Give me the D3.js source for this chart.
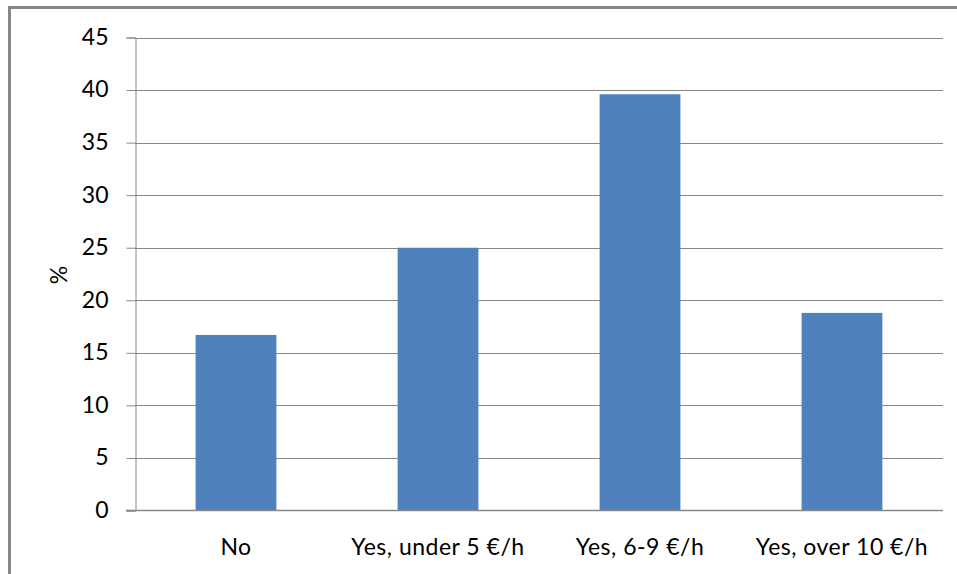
<!DOCTYPE html>
<html>
<head>
<meta charset="utf-8">
<script src="https://cdn.jsdelivr.net/npm/d3@7"></script>
<style>
  body { margin: 0; background: #fff; }
  svg text { font-family: Lato, "Open Sans", sans-serif; fill: #000; }
</style>
</head>
<body>
<div id="chart"></div>
<script>
// chart data
var categories = ["No", "Yes, under 5 €/h", "Yes, 6-9 €/h", "Yes, over 10 €/h"];
var values = [16.7, 25.0, 39.6, 18.8];
var yTicks = [0, 5, 10, 15, 20, 25, 30, 35, 40, 45];

var width = 957;
var height = 574;

// plot area edges
var plotLeft = 135, plotRight = 943, plotTop = 37.5, plotBottom = 510.5;

var svg = d3.select("#chart")
  .append("svg")
  .attr("width", width)
  .attr("height", height);

// outer frame (runs off the right and bottom edge)
svg.append("rect")
  .attr("x", 9.5)
  .attr("y", 7.5)
  .attr("width", 960)
  .attr("height", 580)
  .attr("fill", "none")
  .attr("stroke", "#878787")
  .attr("stroke-width", 3);

var x = d3.scaleBand()
  .domain(categories)
  .range([plotLeft, plotRight])
  .paddingInner(0.6)
  .paddingOuter(0.3);

var y = d3.scaleLinear()
  .domain([0, 45])
  .range([plotBottom, plotTop]);

// gridlines
svg.append("g")
  .selectAll("line")
  .data(yTicks.filter(function (d) { return d > 0; }))
  .join("line")
  .attr("x1", plotLeft)
  .attr("x2", plotRight)
  .attr("y1", function (d) { return Math.round(y(d)) + 0.5; })
  .attr("y2", function (d) { return Math.round(y(d)) + 0.5; })
  .attr("stroke", "#878787")
  .attr("stroke-width", 1);

// bars
svg.append("g")
  .selectAll("rect")
  .data(values)
  .join("rect")
  .attr("x", function (d, i) { return x(categories[i]); })
  .attr("width", x.bandwidth())
  .attr("y", function (d) { return y(d); })
  .attr("height", function (d) { return y(0) - y(d); })
  .attr("fill", "#4f81bd");

// y axis
var yAxis = svg.append("g")
  .attr("transform", "translate(" + (plotLeft + 0.5) + ",0)")
  .call(d3.axisLeft(y).tickValues(yTicks).tickSize(9).tickPadding(18));
yAxis.select(".domain").attr("stroke", "#878787");
yAxis.selectAll(".tick line").attr("stroke", "#878787");
yAxis.selectAll(".tick text")
  .attr("font-size", 23)
  .attr("font-family", "Lato, sans-serif")
  .attr("fill", "#000")
  .attr("dy", "0.3em");

// x axis line
svg.append("line")
  .attr("x1", plotLeft - 9)
  .attr("x2", plotRight)
  .attr("y1", plotBottom)
  .attr("y2", plotBottom)
  .attr("stroke", "#878787")
  .attr("stroke-width", 1.5);

// category labels
svg.append("g")
  .selectAll("text")
  .data(categories)
  .join("text")
  .attr("x", function (d) { return x(d) + x.bandwidth() / 2; })
  .attr("y", 555)
  .attr("text-anchor", "middle")
  .attr("font-size", 23)
  .attr("letter-spacing", "0.5px")
  .text(function (d) { return d; });

// y axis title
svg.append("text")
  .attr("transform", "translate(67,275) rotate(-90)")
  .attr("text-anchor", "middle")
  .attr("font-size", 23)
  .text("%");
</script>
</body>
</html>
